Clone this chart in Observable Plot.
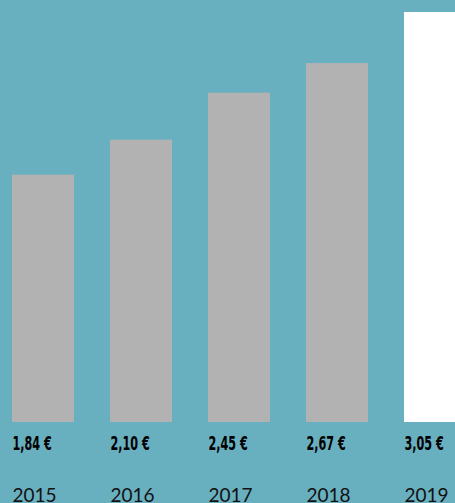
<!DOCTYPE html>
<html>
<head>
<meta charset="utf-8">
<script src="https://cdn.jsdelivr.net/npm/d3@7"></script>
<script src="https://cdn.jsdelivr.net/npm/@observablehq/plot@0.6"></script>
<style>
  html, body { margin: 0; padding: 0; overflow: hidden; background: #68afbf; width: 455px; height: 503px; }
  #chart svg { display: block; max-width: none !important; }
</style>
</head>
<body>
<div id="chart"></div>
<script>
const years = ["2015", "2016", "2017", "2018", "2019"];
const prices = [1.84, 2.10, 2.45, 2.67, 3.05];
const labels = ["1,84 €", "2,10 €", "2,45 €", "2,67 €", "3,05 €"];
const highlight = [false, false, false, false, true];

const data = years.map((y, i) => ({year: y, price: prices[i], label: labels[i], hl: highlight[i]}));

const chart = Plot.plot({
  width: 480,
  height: 503,
  marginTop: 12,
  marginBottom: 81,
  marginLeft: 0,
  marginRight: 0,
  style: {background: "#68afbf", overflow: "visible", maxWidth: "none"},
  x: {domain: years, range: [11, 466], paddingInner: 0.369, paddingOuter: 0, axis: null},
  y: {domain: [0, 3.05], axis: null},
  marks: [
    Plot.barY(data, {x: "year", y: "price", fill: d => d.hl ? "#ffffff" : "#b2b2b2"}),
    Plot.text(data, {
      x: "year", y: 0, text: "label", textAnchor: "start", lineAnchor: "bottom",
      dx: -31, dy: 27, fill: "#000", fontWeight: "bold", fontSize: 20,
      fontFamily: "'DejaVu Sans', sans-serif"
    }),
    Plot.text(data, {
      x: "year", y: 0, text: "year", textAnchor: "start", lineAnchor: "bottom",
      dx: -31, dy: 79, fill: "#111", fontSize: 19,
      fontFamily: "Lato, 'Open Sans', sans-serif"
    })
  ]
});
document.getElementById("chart").appendChild(chart);

// condense the value labels horizontally (styling only)
const sx = 0.56;
d3.select(chart).selectAll("text").each(function() {
  const t = d3.select(this);
  if (!t.text().includes("€")) return;
  const tr = t.attr("transform");
  if (tr) {
    t.attr("transform", tr + ` scale(${sx},1)`);
  } else {
    const x = +t.attr("x") || 0;
    t.attr("transform", `translate(${x * (1 - sx)},0) scale(${sx},1)`);
  }
});
</script>
</body>
</html>
